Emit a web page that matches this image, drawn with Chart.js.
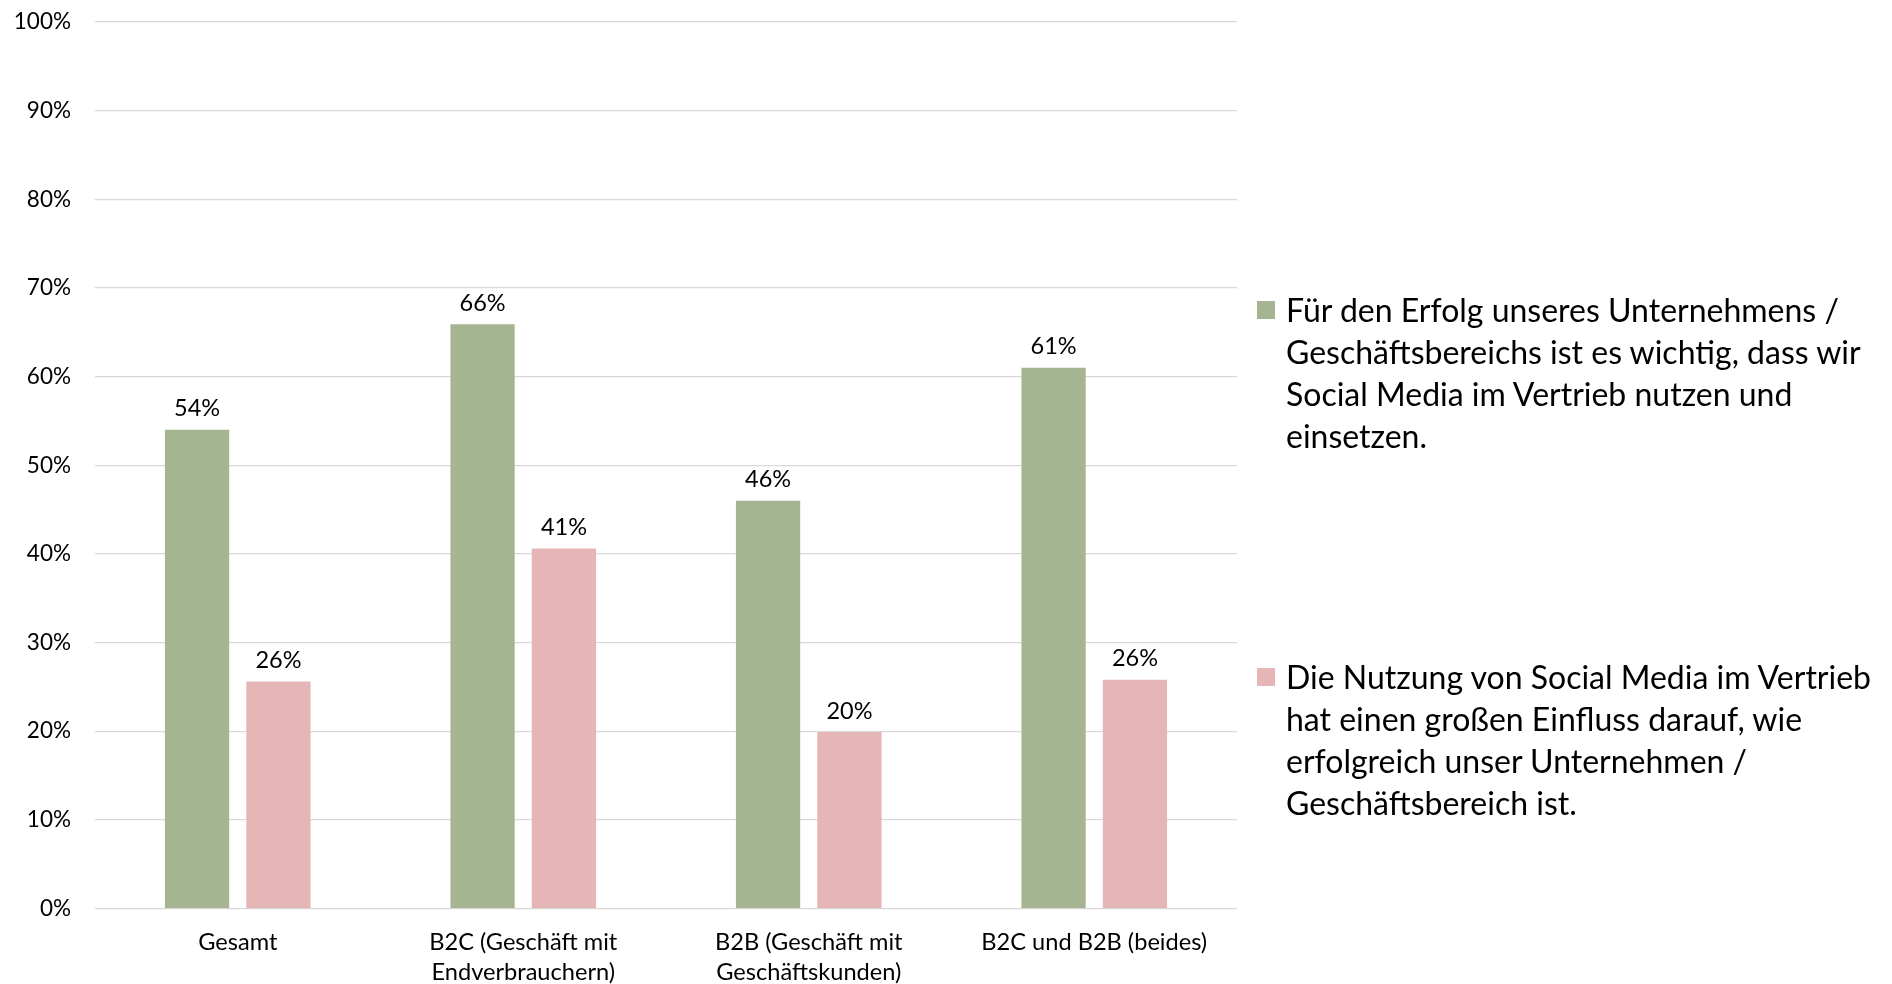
<!DOCTYPE html>
<html><head><meta charset="utf-8">
<script src="https://cdn.jsdelivr.net/npm/chart.js@4/dist/chart.umd.min.js"></script>
<style>
html,body{margin:0;padding:0;background:#fff;}
#wrap{position:relative;width:1892px;height:984px;overflow:hidden;}
#c{position:absolute;left:0;top:0;}
.leg{position:absolute;left:1286px;font-family:Lato,"Open Sans",sans-serif;font-size:32px;line-height:42px;color:#000;white-space:nowrap;}
.sw{position:absolute;left:-29px;top:12px;width:18px;height:18px;}
</style></head><body>
<div id="wrap"><canvas id="c" width="1892" height="984"></canvas><div id="legend"></div></div>
<script>
// ---- data ----
const categories = [
  ['Gesamt'],
  ['B2C (Geschäft mit', 'Endverbrauchern)'],
  ['B2B (Geschäft mit', 'Geschäftskunden)'],
  ['B2C und B2B (beides)']
];
const seriesWichtigLines = [
  'Für den Erfolg unseres Unternehmens /',
  'Geschäftsbereichs ist es wichtig, dass wir',
  'Social Media im Vertrieb nutzen und',
  'einsetzen.'
];
const seriesEinflussLines = [
  'Die Nutzung von Social Media im Vertrieb',
  'hat einen großen Einfluss darauf, wie',
  'erfolgreich unser Unternehmen /',
  'Geschäftsbereich ist.'
];
const valuesWichtig = [54.0, 65.9, 46.0, 61.0];
const valuesEinfluss = [25.6, 40.6, 19.9, 25.8];
const yMin = 0, yMax = 100, yStep = 10;

const colorWichtig = '#A6B591';
const colorEinfluss = '#E6B6B6';
const fontFamily = 'Lato, "Open Sans", sans-serif';

// ---- legend (HTML) ----
const legendItems = [
  {lines: seriesWichtigLines, color: colorWichtig, top: 289},
  {lines: seriesEinflussLines, color: colorEinfluss, top: 656}
];
const legendEl = document.getElementById('legend');
legendItems.forEach(it => {
  const d = document.createElement('div');
  d.className = 'leg';
  d.style.top = it.top + 'px';
  const sw = document.createElement('span');
  sw.className = 'sw';
  sw.style.background = it.color;
  d.appendChild(sw);
  it.lines.forEach((l, i) => {
    if (i) d.appendChild(document.createElement('br'));
    d.appendChild(document.createTextNode(l));
  });
  legendEl.appendChild(d);
});

// ---- value labels plugin ----
const valueLabels = {
  id: 'valueLabels',
  afterDatasetsDraw(chart) {
    const ctx = chart.ctx;
    ctx.save();
    ctx.font = '23.5px ' + fontFamily;
    ctx.fillStyle = '#000';
    ctx.textAlign = 'center';
    ctx.textBaseline = 'middle';
    chart.data.datasets.forEach((ds, di) => {
      chart.getDatasetMeta(di).data.forEach((bar, i) => {
        ctx.fillText(Math.round(ds.data[i]) + '%', bar.x, bar.y - 21);
      });
    });
    ctx.restore();
  }
};

new Chart(document.getElementById('c'), {
  type: 'bar',
  data: {
    labels: categories,
    datasets: [
      {label: seriesWichtigLines.join(' '), data: valuesWichtig, backgroundColor: colorWichtig,
       categoryPercentage: 0.57, barPercentage: 0.79},
      {label: seriesEinflussLines.join(' '), data: valuesEinfluss, backgroundColor: colorEinfluss,
       categoryPercentage: 0.57, barPercentage: 0.79}
    ]
  },
  options: {
    responsive: false,
    animation: false,
    devicePixelRatio: 1,
    layout: {padding: {top: 22, right: 655, left: 0, bottom: 0}},
    plugins: {legend: {display: false}, tooltip: {enabled: false}},
    scales: {
      x: {
        grid: {display: false},
        border: {display: false},
        ticks: {color: '#000', font: {family: fontFamily, size: 23.6, lineHeight: 1.27},
                padding: 11, maxRotation: 0, autoSkip: false},
        afterFit(s) { s.height = 75.5; }
      },
      y: {
        min: yMin, max: yMax,
        grid: {color: '#D9D9D9', lineWidth: 1.2, drawTicks: false},
        border: {display: false},
        ticks: {stepSize: yStep, color: '#000', font: {family: fontFamily, size: 22.5},
                padding: 24, callback: v => v + '%'},
        afterFit(s) { s.width = 95; s.paddingTop = 0; s.paddingBottom = 0; }
      }
    }
  },
  plugins: [valueLabels]
});
</script>
</body></html>
